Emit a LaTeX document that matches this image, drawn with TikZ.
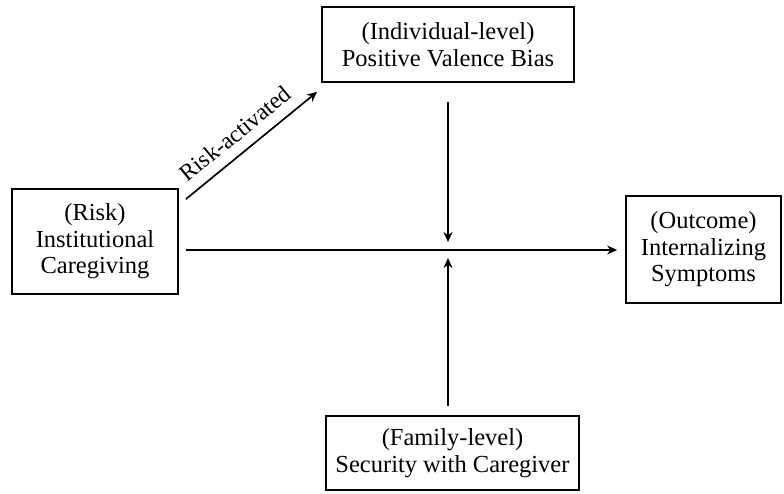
\documentclass[tikz,border=0pt]{standalone}
\usepackage{fontspec}
\setmainfont{Liberation Serif}
\usetikzlibrary{arrows.meta}
\begin{document}
\begin{tikzpicture}[x=1pt,y=-1pt,
  box/.style={draw, line width=1.7pt, align=center, inner sep=0pt, font=\fontsize{24.5}{26.5}\selectfont},
  arr/.style={line width=1.7pt, -{Stealth[length=10pt,width=9pt]}},
  lbl/.style={font=\fontsize{23.5}{26}\selectfont}]
\useasboundingbox (0,0) rectangle (784,493);
\node[box, minimum width=252pt, minimum height=75pt] (top) at (448,44.5) {(Individual-level)\\Positive Valence Bias};
\node[box, minimum width=166pt, minimum height=105pt] (left) at (95,241.5) {(Risk)\\Institutional\\Caregiving};
\node[box, minimum width=155pt, minimum height=107pt] (right) at (703.5,249.5) {(Outcome)\\Internalizing\\Symptoms};
\node[box, minimum width=253pt, minimum height=74pt] (bottom) at (452.5,453) {(Family-level)\\Security with Caregiver};
\coordinate (mid) at (448,250);
\coordinate (midtop) at (448,242);
\coordinate (midbot) at (448,258);
\draw[arr, shorten <=7pt, shorten >=8pt] (left.east |- mid) -- (right.west |- mid);
\draw[arr, shorten <=19pt] (top.south -| mid) -- (midtop);
\draw[arr, shorten <=9pt] (bottom.north -| mid) -- (midbot);
\draw[arr] ([shift={(7,11)}]left.north east) -- node[lbl, sloped, above=7pt, pos=0.47] {Risk-activated} ([shift={(-4,9)}]top.south west);
\end{tikzpicture}
\end{document}
